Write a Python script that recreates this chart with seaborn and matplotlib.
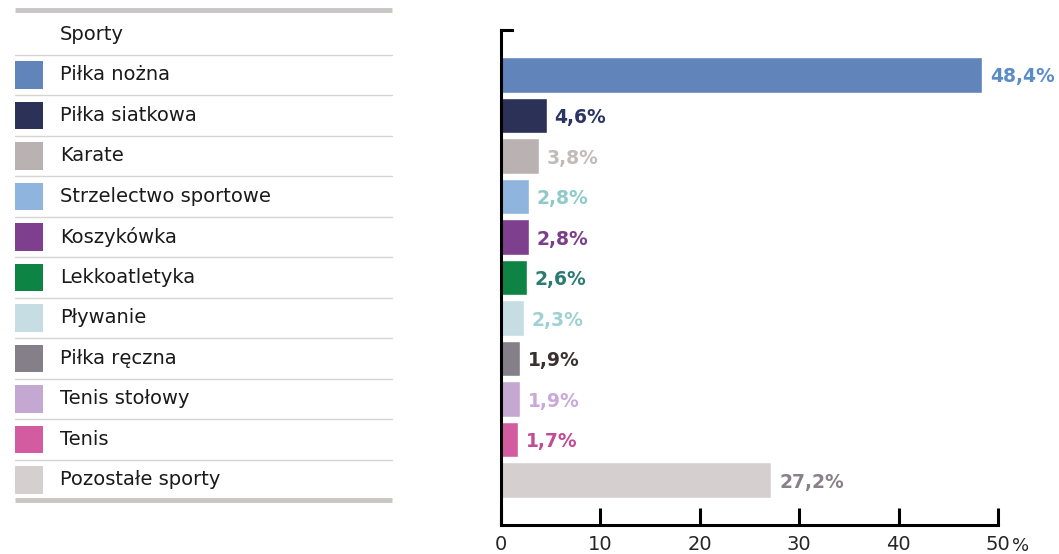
import matplotlib
matplotlib.use("Agg")
import matplotlib.pyplot as plt
import seaborn as sns
import pandas as pd
from matplotlib.patches import Rectangle

# data
sports = ["Piłka nożna", "Piłka siatkowa", "Karate", "Strzelectwo sportowe",
          "Koszykówka", "Lekkoatletyka", "Pływanie", "Piłka ręczna",
          "Tenis stołowy", "Tenis", "Pozostałe sporty"]
shares = [48.4, 4.6, 3.8, 2.8, 2.8, 2.6, 2.3, 1.9, 1.9, 1.7, 27.2]
share_labels = ["48,4%", "4,6%", "3,8%", "2,8%", "2,8%", "2,6%", "2,3%",
                "1,9%", "1,9%", "1,7%", "27,2%"]
bar_colors = ["#6184bb", "#2c3158", "#bab2b2", "#8fb4dd", "#7e3f8f", "#0d8443",
              "#c6dde3", "#857f8a", "#c4a8d1", "#d35ca0", "#d6cfcf"]
label_colors = ["#5b8cc6", "#2b3563", "#c3bbbb", "#8fcaca", "#7b3d8c", "#2c7a72",
                "#9ed1d1", "#3a3030", "#c9a9d9", "#c04c98", "#8a8088"]
header = "Sporty"
x_ticks = [0, 10, 20, 30, 40, 50]

df = pd.DataFrame({"sport": sports, "share": shares})

sns.set_style("white")
plt.rcParams["font.family"] = ["DejaVu Sans"]

fig = plt.figure(figsize=(10.59, 5.54), dpi=100)

# left table-like legend (1 x-unit = 1 pixel, rows in same index space as bars)
ax_leg = fig.add_axes([0, 0, 0.4, 1])
ax_leg.set_xlim(0, 0.4 * 1059)
ax_leg.set_ylim(554 / 40.5 - 75 / 40.5, -75 / 40.5)
ax_leg.axis("off")

ax_leg.plot([15, 392], [-1.6, -1.6], color="#cbc6c6", lw=3.5, solid_capstyle="butt")
ax_leg.text(60, -1, header, fontsize=14, va="center", color="#1a1a1a")
for i, (name, col) in enumerate(zip(sports, bar_colors)):
    ax_leg.plot([15, 392], [i - 0.5, i - 0.5], color="#d6d3d3", lw=1)
    ax_leg.add_patch(Rectangle((15, i - 0.34), 28, 0.68, color=col, lw=0))
    ax_leg.text(60, i, name, fontsize=14, va="center", color="#1a1a1a")
ax_leg.plot([15, 392], [10.5, 10.5], color="#cbc6c6", lw=3.5, solid_capstyle="butt")

# bar chart
ax = fig.add_axes([501 / 1059, 29 / 554, 497 / 1059, 495 / 554])
sns.barplot(data=df, x="share", y="sport", hue="sport", palette=bar_colors,
            legend=False, orient="h", width=0.88, ax=ax, saturation=1)
ax.set_xlim(0, 50)
ax.set_ylim(11.11, -1.11)
ax.set_xlabel("")
ax.set_ylabel("")
ax.set_yticks([])
ax.set_xticks(x_ticks)
ax.set_xticklabels([str(t) for t in x_ticks], fontsize=14)
ax.tick_params(axis="x", bottom=True, direction="in", length=12, width=2.2,
               color="black", pad=7)
for s in ["top", "right"]:
    ax.spines[s].set_visible(False)
for s in ["left", "bottom"]:
    ax.spines[s].set_linewidth(2.2)
    ax.spines[s].set_color("black")
ax.plot([0, 1.1], [1, 1], transform=ax.get_xaxis_transform(), color="black",
        lw=2.2, clip_on=False, solid_capstyle="projecting")
ax.text(52.3, -0.042, "%", transform=ax.get_xaxis_transform(), fontsize=13,
        ha="center", va="center")

for i, (v, lab, c) in enumerate(zip(shares, share_labels, label_colors)):
    ax.text(v + 0.8, i + 0.05, lab, fontsize=13.5, fontweight="bold", color=c,
            va="center", ha="left", clip_on=False)

fig.savefig("out.png", dpi=100)
